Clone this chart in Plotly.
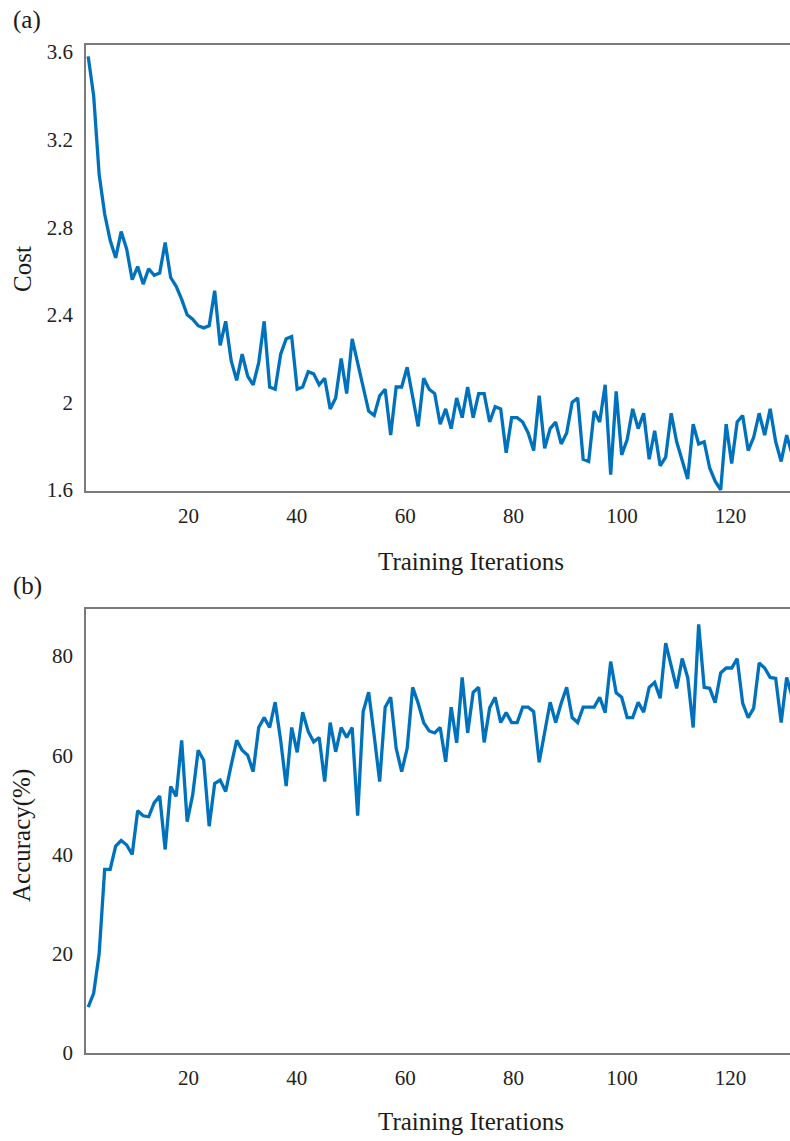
import numpy as np
import plotly.graph_objects as go
from plotly.subplots import make_subplots

# ---------------- data ----------------
cost = [3.58, 3.40, 3.04, 2.86, 2.74, 2.66, 2.78, 2.70, 2.56, 2.62,
        2.54, 2.61, 2.58, 2.59, 2.73, 2.57, 2.53, 2.47, 2.40, 2.38,
        2.35, 2.34, 2.35, 2.51, 2.26, 2.37, 2.19, 2.10, 2.22, 2.12,
        2.08, 2.18, 2.37, 2.07, 2.06, 2.22, 2.29, 2.30, 2.06, 2.07,
        2.14, 2.13, 2.08, 2.11, 1.97, 2.02, 2.20, 2.04, 2.29, 2.18,
        2.07, 1.96, 1.94, 2.03, 2.06, 1.85, 2.07, 2.07, 2.16, 2.03,
        1.89, 2.11, 2.06, 2.04, 1.90, 1.97, 1.88, 2.02, 1.93, 2.07,
        1.93, 2.04, 2.04, 1.91, 1.98, 1.97, 1.77, 1.93, 1.93, 1.91,
        1.86, 1.78, 2.03, 1.79, 1.88, 1.91, 1.81, 1.86, 2.00, 2.02,
        1.74, 1.73, 1.96, 1.91, 2.08, 1.67, 2.05, 1.76, 1.83, 1.97,
        1.88, 1.95, 1.74, 1.87, 1.71, 1.75, 1.95, 1.82, 1.73, 1.65,
        1.90, 1.81, 1.82, 1.70, 1.64, 1.60, 1.90, 1.72, 1.91, 1.94,
        1.78, 1.84, 1.95, 1.85, 1.97, 1.82, 1.73, 1.85, 1.76]

accuracy = [9.2, 12, 20, 37, 37, 41.7, 42.8, 41.9, 40, 48.8,
            47.8, 47.6, 50.4, 51.8, 41, 53.7, 51.7, 63, 46.6, 52,
            61, 59, 45.7, 54.3, 55, 52.7, 58, 63, 61, 60,
            56.7, 65.6, 67.6, 65.6, 70.7, 63, 53.8, 65.6, 60.6, 68.7,
            64.8, 62.7, 63.6, 54.7, 66.6, 60.7, 65.6, 63.6, 65.6, 47.8,
            68.8, 72.7, 64, 54.7, 69.7, 71.7, 61.4, 56.7, 61.4, 73.7,
            70.5, 66.6, 64.9, 64.5, 65.6, 58.7, 69.7, 62.5, 75.7, 64.5,
            72.7, 73.7, 62.6, 69.6, 71.7, 66.6, 68.6, 66.6, 66.6, 69.7,
            69.7, 68.8, 58.6, 64.3, 70.7, 66.6, 70.5, 73.7, 67.6, 66.6,
            69.7, 69.7, 69.7, 71.7, 68.6, 78.9, 72.6, 71.7, 67.6, 67.6,
            70.7, 68.7, 73.7, 74.7, 71.5, 82.6, 78.2, 73.5, 79.5, 75.7,
            65.6, 86.4, 73.7, 73.5, 70.6, 76.6, 77.6, 77.6, 79.5, 70.5,
            67.6, 69.5, 78.6, 77.6, 75.7, 75.5, 66.6, 75.7, 71.8]

# evenly spaced sample positions along the iteration axis
iter_first, iter_last = 1.5, 131.4
iterations = np.linspace(iter_first, iter_last, len(cost))

x_ticks = [20, 40, 60, 80, 100, 120]
cost_ticks = [1.6, 2.0, 2.4, 2.8, 3.2, 3.6]
cost_tick_text = ["1.6", "2", "2.4", "2.8", "3.2", "3.6"]
acc_ticks = [0, 20, 40, 60, 80]

# ---------------- figure ----------------
W, H = 790, 1141
ML, MR, MT, MB = 86, 0, 45, 88
PH = H - MT - MB

def py(pix):  # pixel y (from top) -> paper y
    return (H - MB - pix) / PH

def px(pix):  # pixel x -> paper x
    return (pix - ML) / (W - ML - MR)

fig = make_subplots(rows=2, cols=1, vertical_spacing=0.0)

line_color = "#0072BD"
font_family = "Liberation Serif, Times New Roman, serif"

fig.add_trace(go.Scatter(x=iterations, y=cost, mode="lines",
                         line=dict(color=line_color, width=3.3),
                         showlegend=False), row=1, col=1)
fig.add_trace(go.Scatter(x=iterations, y=accuracy, mode="lines",
                         line=dict(color=line_color, width=3.3),
                         showlegend=False), row=2, col=1)

axis_common = dict(showgrid=False, zeroline=False, showline=True,
                   linecolor="#7a7a7a", linewidth=1.5, ticks="",
                   tickfont=dict(family=font_family, size=21, color="#222222"))

x_range = [1.1, 131.0]
fig.update_xaxes(range=x_range, tickvals=x_ticks, mirror=True,
                 ticklabelstandoff=5, **axis_common)
fig.update_yaxes(mirror=False, ticklabelstandoff=7, **axis_common)

fig.update_layout(
    yaxis=dict(domain=[py(491), 1.0], range=[1.595, 3.632],
               tickvals=cost_ticks, ticktext=cost_tick_text),
    yaxis2=dict(domain=[0.0, py(609)], range=[-0.05, 89.5],
                tickvals=acc_ticks),
    xaxis=dict(anchor="y"),
    xaxis2=dict(anchor="y2"),
)

title_font = dict(family=font_family, size=25, color="#1a1a1a")
annotations = [
    dict(text="(a)", x=px(27), y=py(20)),
    dict(text="(b)", x=px(27), y=py(586)),
    dict(text="Training Iterations", x=px(471), y=py(561)),
    dict(text="Training Iterations", x=px(471), y=py(1121)),
    dict(text="Cost", x=px(22), y=py(269), textangle=-90),
    dict(text="Accuracy(%)", x=px(22), y=py(836), textangle=-90),
]
for a in annotations:
    fig.add_annotation(xref="paper", yref="paper", showarrow=False,
                       xanchor="center", yanchor="middle", font=title_font, **a)

fig.update_layout(width=W, height=H, margin=dict(l=ML, r=MR, t=MT, b=MB),
                  plot_bgcolor="white", paper_bgcolor="white",
                  font=dict(family=font_family))

fig.write_html("out.html")
